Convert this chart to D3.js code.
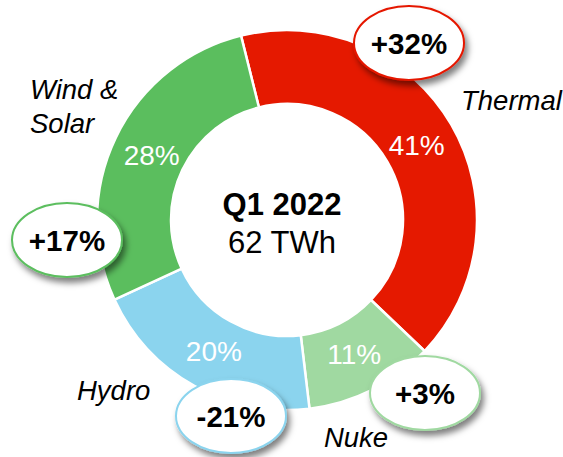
<!DOCTYPE html>
<meta charset="utf-8">
<head>
  <title>Q1 2022 generation mix</title>
</head>

<style>
body {
  margin: 0;
  background: #fff;
}
text {
  font-family: "Liberation Sans", Arial, Helvetica, sans-serif;
}
.pct {
  fill: #fff;
  font-size: 28px;
  text-anchor: middle;
}
.cat {
  fill: #000;
  font-size: 27.5px;
  font-style: italic;
}
.chg {
  font-size: 29.5px;
  font-weight: bold;
  text-anchor: middle;
}
</style>

<body>
  <svg width="563" height="457"></svg>

  <script src="https://cdnjs.cloudflare.com/ajax/libs/d3/7.8.5/d3.min.js"></script>
  <script>
// data
var categories = ["Thermal", "Nuke", "Hydro", "Wind & Solar"]
var shares = [41, 11, 20, 28]
var changes = ["+32%", "+3%", "-21%", "+17%"]
var colors = ["#e51900", "#a0d9a1", "#8bd4ee", "#5bbe5e"]

var width = 563, height = 457
var cx = 287, cy = 220
var outerR = 190, innerR = 116

// where the annotations sit, relative to the donut centre
var catPos = {
  "Thermal": {x: 174, y: -110, anchor: "start", lines: ["Thermal"]},
  "Nuke": {x: 69, y: 227, anchor: "middle", lines: ["Nuke"]},
  "Hydro": {x: -210, y: 180, anchor: "start", lines: ["Hydro"]},
  "Wind & Solar": {x: -257, y: -121, anchor: "start", lines: ["Wind &", "Solar"]}
}
var chgPos = {
  "Thermal": {x: 122, y: -177},
  "Nuke": {x: 138, y: 173},
  "Hydro": {x: -56, y: 196},
  "Wind & Solar": {x: -220, y: 20}
}

var rows = categories.map(function(c, i) {
  return {name: c, value: shares[i], change: changes[i], color: colors[i]}
})

var svg = d3.select("svg")

var defs = svg.append("defs")
var f = defs.append("filter").attr("id", "shadow")
  .attr("x", "-30%").attr("y", "-30%").attr("width", "170%").attr("height", "180%")
f.append("feDropShadow")
  .attr("dx", 3).attr("dy", 5).attr("stdDeviation", 3)
  .attr("flood-color", "#000").attr("flood-opacity", 0.5)

var start = -14 * Math.PI / 180
var pie = d3.pie()
  .value(function(d) { return d.value })
  .sort(null)
  .startAngle(start)
  .endAngle(start + 2 * Math.PI)

var arc = d3.arc().innerRadius(innerR).outerRadius(outerR)
var labelArc = d3.arc().innerRadius(150).outerRadius(150)

var g = svg.append("g").attr("transform", "translate(" + cx + "," + cy + ")")

var arcs = pie(rows)

g.selectAll("path.slice")
  .data(arcs)
  .enter()
  .append("path")
  .attr("class", "slice")
  .attr("d", arc)
  .attr("fill", function(d) { return d.data.color })
  .attr("stroke", "#fff")
  .attr("stroke-width", 2.5)

g.selectAll("text.pct")
  .data(arcs)
  .enter()
  .append("text")
  .attr("class", "pct")
  .attr("transform", function(d) {
    var c = labelArc.centroid(d)
    return "translate(" + c[0] + "," + c[1] + ")"
  })
  .attr("dy", "0.36em")
  .text(function(d) { return d.data.value + "%" })

// category names
g.selectAll("text.cat")
  .data(rows)
  .enter()
  .append("text")
  .attr("class", "cat")
  .attr("text-anchor", function(d) { return catPos[d.name].anchor })
  .attr("x", function(d) { return catPos[d.name].x })
  .attr("y", function(d) { return catPos[d.name].y })
  .each(function(d) {
    var t = d3.select(this)
    catPos[d.name].lines.forEach(function(l, i) {
      t.append("tspan")
        .attr("x", catPos[d.name].x)
        .attr("dy", i == 0 ? 0 : 34)
        .text(l)
    })
  })

// centre text
g.append("text")
  .attr("x", -5).attr("y", -5)
  .attr("text-anchor", "middle")
  .style("font-size", "31px")
  .style("font-weight", "bold")
  .text("Q1 2022")
g.append("text")
  .attr("x", -5).attr("y", 33)
  .attr("text-anchor", "middle")
  .style("font-size", "31px")
  .text("62 TWh")

// change callouts
var call = g.selectAll("g.callout")
  .data(rows)
  .enter()
  .append("g")
  .attr("class", "callout")
  .attr("transform", function(d) {
    return "translate(" + chgPos[d.name].x + "," + chgPos[d.name].y + ")"
  })

call.append("ellipse")
  .attr("rx", 55)
  .attr("ry", 37)
  .attr("fill", "#fff")
  .attr("stroke", function(d) { return d.color })
  .attr("stroke-width", 2)
  .attr("filter", "url(#shadow)")

call.append("text")
  .attr("class", "chg")
  .attr("dy", "0.36em")
  .text(function(d) { return d.change })
  </script>
</body>
</html>
